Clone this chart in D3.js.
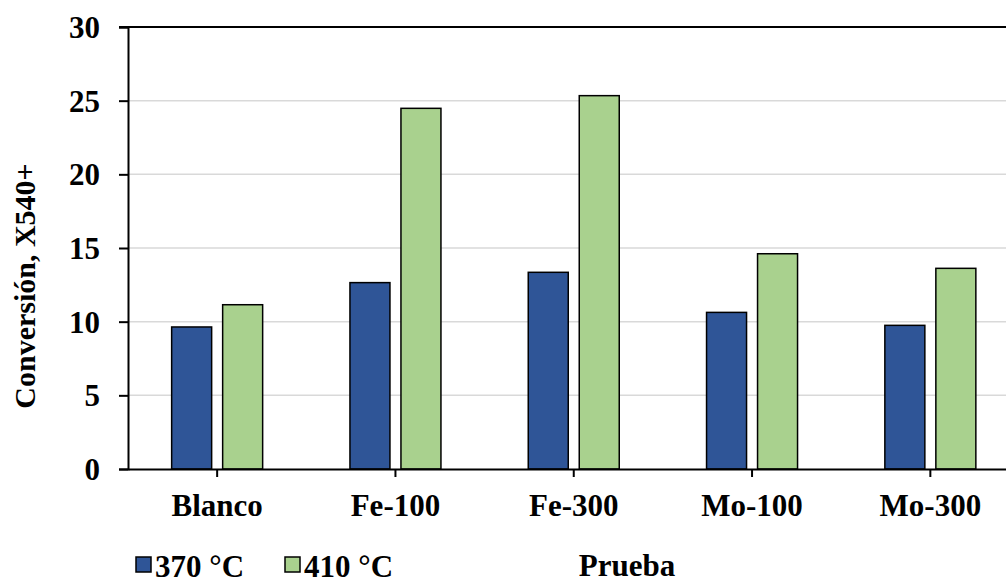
<!DOCTYPE html>
<html>
<head>
<meta charset="utf-8">
<script src="https://cdn.jsdelivr.net/npm/d3@7"></script>
<style>
  html, body { margin: 0; padding: 0; background: #fff; }
  svg { display: block; }
  text { font-family: "Liberation Serif", "Times New Roman", serif; font-weight: bold; fill: #000; }
</style>
</head>
<body>
<svg id="chart" width="1006" height="579"></svg>
<script>
// Data: conversion of the 540+ fraction per test, at two temperatures
const categories = ["Blanco", "Fe-100", "Fe-300", "Mo-100", "Mo-300"];
const seriesNames = ["370 °C", "410 °C"];
const values370 = [9.64, 12.65, 13.35, 10.63, 9.75];
const values410 = [11.15, 24.48, 25.34, 14.61, 13.62];
const yTicks = [0, 5, 10, 15, 20, 25, 30];
const colors = ["#2F5597", "#A9D18E"];

const svg = d3.select("#chart");
const W = 1006, H = 579;
const plot = { left: 128, top: 27, bottom: 469, bandWidth: 178.3 };
const fontSize = 31;

const x = d3.scaleBand()
  .domain(categories)
  .range([plot.left, plot.left + plot.bandWidth * categories.length])
  .paddingInner(0).paddingOuter(0);

const y = d3.scaleLinear().domain([0, 30]).range([plot.bottom, plot.top]);

// Horizontal gridlines
svg.append("g")
  .selectAll("line")
  .data(yTicks.filter(d => d > 0 && d < 30))
  .join("line")
  .attr("x1", plot.left).attr("x2", W)
  .attr("y1", d => y(d)).attr("y2", d => y(d))
  .attr("stroke", "#d9d9d9").attr("stroke-width", 1.5);

// Top frame line at 30
svg.append("line")
  .attr("x1", plot.left - 9).attr("x2", W)
  .attr("y1", y(30)).attr("y2", y(30))
  .attr("stroke", "#000").attr("stroke-width", 2);

// Bars
const series = [values370, values410];
const barW = 40, gap = 11;
series.forEach((vals, si) => {
  svg.append("g")
    .selectAll("rect")
    .data(categories.map((c, i) => ({ c, v: vals[i] })))
    .join("rect")
    .attr("x", d => {
      const cx = x(d.c) + x.bandwidth() / 2;
      return si === 0 ? cx - gap / 2 - barW : cx + gap / 2;
    })
    .attr("y", d => y(d.v))
    .attr("width", barW)
    .attr("height", d => y(0) - y(d.v))
    .attr("fill", colors[si])
    .attr("stroke", "#000")
    .attr("stroke-width", 1.5);
});

// Y axis
const yAxis = d3.axisLeft(y).tickValues(yTicks).tickSize(9).tickPadding(19).tickFormat(d3.format("d"));
const gy = svg.append("g").attr("transform", `translate(${plot.left},0)`).call(yAxis);
gy.select(".domain").attr("stroke", "#000").attr("stroke-width", 2);
gy.selectAll(".tick line").attr("stroke", "#000").attr("stroke-width", 2);
gy.selectAll(".tick text")
  .attr("font-size", fontSize)
  .attr("font-family", "Liberation Serif, Times New Roman, serif")
  .attr("font-weight", "bold")
  .attr("fill", "#000")
  .attr("dy", "0.34em");

// X axis with ticks at category centres
const xAxis = d3.axisBottom(x).tickSize(8).tickPadding(0).tickSizeOuter(0);
const gx = svg.append("g").attr("transform", `translate(0,${plot.bottom})`).call(xAxis);
gx.select(".domain").attr("stroke", "#000").attr("stroke-width", 2);
gx.selectAll(".tick line").attr("stroke", "#000").attr("stroke-width", 2);
gx.selectAll(".tick text")
  .attr("font-size", fontSize)
  .attr("font-family", "Liberation Serif, Times New Roman, serif")
  .attr("font-weight", "bold")
  .attr("fill", "#000")
  .attr("y", 47).attr("dy", 0);

// Axis titles
svg.append("text")
  .attr("transform", `translate(35,286) rotate(-90)`)
  .attr("text-anchor", "middle")
  .attr("font-size", 30)
  .text("Conversión, X540+");

svg.append("text")
  .attr("x", 627).attr("y", 576)
  .attr("text-anchor", "middle")
  .attr("font-size", fontSize)
  .text("Prueba");

// Legend
const legendX = [136, 285];
const legend = svg.append("g");
seriesNames.forEach((name, i) => {
  legend.append("rect")
    .attr("x", legendX[i]).attr("y", 557)
    .attr("width", 15).attr("height", 15)
    .attr("fill", colors[i]).attr("stroke", "#000").attr("stroke-width", 1.5);
  legend.append("text")
    .attr("x", legendX[i] + 19).attr("y", 577)
    .attr("font-size", fontSize)
    .text(name);
});
</script>
</body>
</html>
